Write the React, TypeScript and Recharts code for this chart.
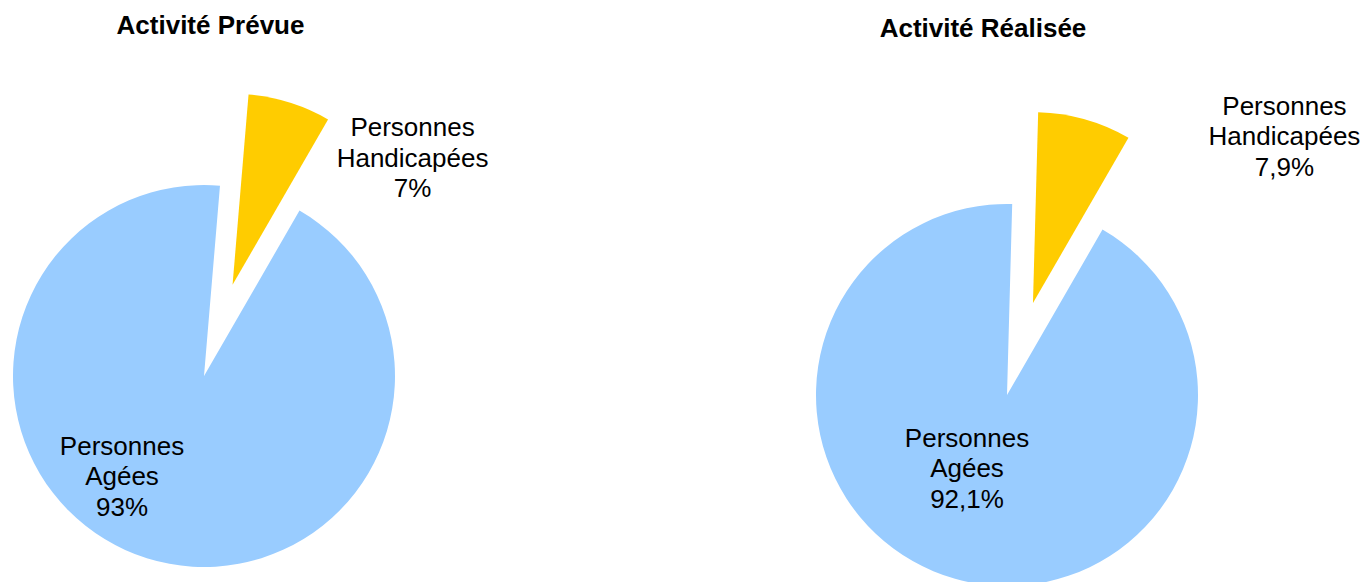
import { PieChart, Pie, Cell } from 'recharts';

// categories + values
const categories = ['Personnes Agées', 'Personnes Handicapées'];
const prevue = [93, 7];
const realisee = [92.1, 7.9];
const titles = ['Activité Prévue', 'Activité Réalisée'];

const COLORS = ['#99CCFF', '#FFCC00'];
const FONT = 'Arial, "Liberation Sans", Helvetica, sans-serif';
const RADIUS = 191;
const EXPLODE = 95.5; // distance the small slice is pulled out
const START = 60;
const LINE = 30.5;

const charts = [
  {
    title: titles[0],
    values: prevue,
    cx: 204,
    cy: 376,
    titleX: 210.5,
    titleY: 34,
    labels: [{ dx: -82, dy: 109 }, { dx: 180, dy: -118 }],
  },
  {
    title: titles[1],
    values: realisee,
    cx: 1007,
    cy: 395,
    titleX: 983,
    titleY: 36.5,
    labels: [{ dx: -40, dy: 82 }, { dx: 251.5, dy: -158 }],
  },
];

const fmt = (v: number) => String(v).replace('.', ',') + '%';

// offset of a slice's center along its mid angle
function explodeOffset(values: number[], idx: number) {
  const total = values.reduce((a, b) => a + b, 0);
  const before = values.slice(0, idx).reduce((a, b) => a + b, 0);
  const mid = START - ((before + values[idx] / 2) / total) * 360;
  const rad = (mid * Math.PI) / 180;
  return { dx: EXPLODE * Math.cos(rad), dy: -EXPLODE * Math.sin(rad) };
}

const makeLabel = (which: number, pos: { dx: number; dy: number }) => (props: any) => {
  if (props.index !== which) return <g />;
  const name: string = props.name ?? props.payload?.name ?? '';
  const lines = [...name.split(' '), fmt(props.value)];
  const x = props.cx + pos.dx;
  const y = props.cy + pos.dy;
  return (
    <text x={x} y={y} textAnchor="middle" fill="#000" fontFamily={FONT} fontSize={26}>
      {lines.map((l, i) => (
        <tspan key={i} x={x} y={y + (i - 1) * LINE}>
          {l}
        </tspan>
      ))}
    </text>
  );
};

export default function App() {
  const pies: any[] = [];
  charts.forEach((c, ci) => {
    const data = categories.map((name, i) => ({ name, value: c.values[i] }));
    const off = explodeOffset(c.values, 1);
    pies.push(
      <Pie
        key={`base-${ci}`}
        data={data}
        dataKey="value"
        nameKey="name"
        cx={c.cx}
        cy={c.cy}
        outerRadius={RADIUS}
        startAngle={START}
        endAngle={START - 360}
        stroke="none"
        labelLine={false}
        label={makeLabel(0, c.labels[0])}
        isAnimationActive={false}
      >
        <Cell fill={COLORS[0]} />
        <Cell fill="none" />
      </Pie>
    );
    pies.push(
      <Pie
        key={`explode-${ci}`}
        data={data}
        dataKey="value"
        nameKey="name"
        cx={c.cx + off.dx}
        cy={c.cy + off.dy}
        outerRadius={RADIUS}
        startAngle={START}
        endAngle={START - 360}
        stroke="none"
        labelLine={false}
        label={makeLabel(1, c.labels[1])}
        isAnimationActive={false}
      >
        <Cell fill="none" />
        <Cell fill={COLORS[1]} />
      </Pie>
    );
  });

  return (
    <div style={{ position: 'absolute', left: 0, top: 0, width: 1366, height: 582, background: '#fff' }}>
      <PieChart width={1366} height={582} margin={{ top: 0, right: 0, bottom: 0, left: 0 }}>
        {pies}
      </PieChart>
      <svg width={1366} height={582} style={{ position: 'absolute', left: 0, top: 0, pointerEvents: 'none' }}>
        {charts.map((c, i) => (
          <text
            key={i}
            x={c.titleX}
            y={c.titleY}
            textAnchor="middle"
            fontFamily={FONT}
            fontSize={26}
            fontWeight="bold"
            fill="#000"
          >
            {c.title}
          </text>
        ))}
      </svg>
    </div>
  );
}
